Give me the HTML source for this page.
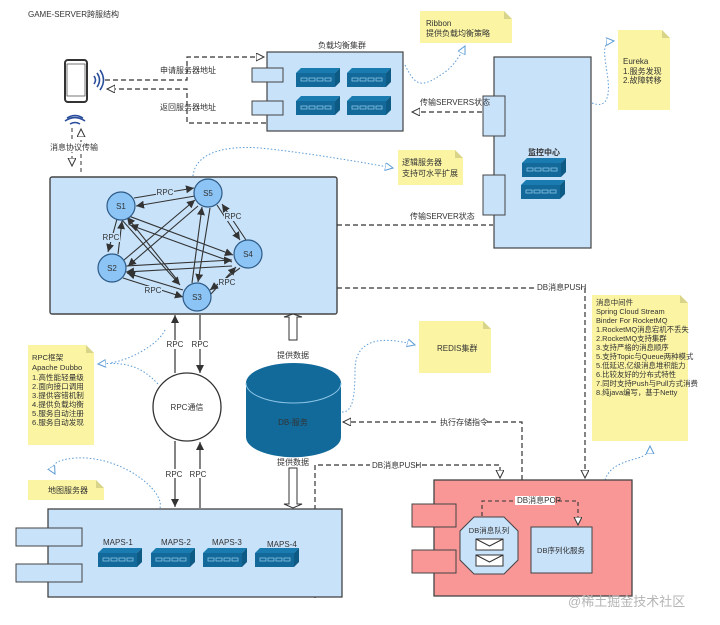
<!DOCTYPE html>
<html><head><meta charset="utf-8"><style>
html,body{margin:0;padding:0;background:#fff}
svg{display:block}
text{font-family:"Liberation Sans","Noto Sans CJK SC",sans-serif;fill:#333}
</style></head><body>
<svg width="720" height="625" viewBox="0 0 720 625" xmlns="http://www.w3.org/2000/svg">
<defs>
<marker id="oa" markerWidth="10" markerHeight="10" refX="8" refY="4" orient="auto" markerUnits="userSpaceOnUse"><path d="M0,0 L8,4 L0,8 Z" fill="#fff" stroke="#333" stroke-width="1"/></marker>
<marker id="ba" markerWidth="10" markerHeight="10" refX="8" refY="4" orient="auto" markerUnits="userSpaceOnUse"><path d="M0,0 L8,4 L0,8 Z" fill="#333"/></marker>
<marker id="bl" markerWidth="10" markerHeight="10" refX="8" refY="4" orient="auto" markerUnits="userSpaceOnUse"><path d="M0,0 L8,4 L0,8 Z" fill="#fff" stroke="#5b9bd5" stroke-width="1"/></marker>
<g id="srv"><path d="M0,5 L5,0 L44,0 L39,5 Z" fill="#1a7bb0"/><path d="M39,5 L44,0 L44,14 L39,19 Z" fill="#0d5a85"/><rect x="0" y="5" width="39" height="14" fill="#136a9a"/><g fill="none" stroke="#8cc4e6" stroke-width="0.8"><rect x="5" y="10" width="6" height="3"/><rect x="13" y="10" width="6" height="3"/><rect x="21" y="10" width="6" height="3"/><rect x="29" y="10" width="6" height="3"/></g></g>
</defs>
<text x="28" y="17" font-size="8">GAME-SERVER跨服结构</text>

<!-- phone -->
<rect x="65" y="60" width="22" height="42" rx="3" fill="#fff" stroke="#333" stroke-width="2"/>
<rect x="67" y="64" width="18" height="32" fill="#fff" stroke="#555" stroke-width="0.8"/>
<g fill="none" stroke="#2a4d9b" stroke-width="1.6"><path d="M94,76 q3,4 0,8"/><path d="M97,73 q5,7 0,14"/><path d="M100,70 q7,10 0,20"/>
<path d="M67,118 q8,-5 16,0"/><path d="M65,121 q10,-7 20,0"/><path d="M70,124 q5,-3 10,0"/></g>
<path d="M72,128 V166" stroke="#333" stroke-dasharray="4,3" fill="none" marker-end="url(#oa)"/>
<path d="M81,172 V129" stroke="#333" stroke-dasharray="4,3" fill="none" marker-end="url(#oa)"/>
<rect x="50" y="142" width="46" height="10" fill="#fff"/>
<text x="50" y="150" font-size="8">消息协议传输</text>

<!-- phone to LB -->
<path d="M105,80 H187 V57 H264" stroke="#333" stroke-width="1.2" stroke-dasharray="5,3" fill="none" marker-end="url(#oa)"/>
<path d="M266,123 H187 V89 H107" stroke="#333" stroke-width="1.2" stroke-dasharray="5,3" fill="none" marker-end="url(#oa)"/>
<text x="160" y="73" font-size="8">申请服务器地址</text>
<text x="160" y="110" font-size="8">返回服务器地址</text>

<!-- LB cluster -->
<text x="318" y="48" font-size="8">负载均衡集群</text>
<rect x="267" y="52" width="136" height="79" fill="#c8e2fa" stroke="#444" stroke-width="1.2"/>
<rect x="252" y="68" width="31" height="14" fill="#c8e2fa" stroke="#444"/>
<rect x="252" y="101" width="31" height="14" fill="#c8e2fa" stroke="#444"/>
<use href="#srv" x="296" y="68"/><use href="#srv" x="347" y="68"/>
<use href="#srv" x="296" y="96"/><use href="#srv" x="347" y="96"/>

<!-- Ribbon note -->
<path d="M420,11 H504 L512,19 V43 H420 Z" fill="#fbf5a3"/><path d="M504,11 L512,19 H504 Z" fill="#d8d48a"/>
<text x="426" y="26" font-size="8">Ribbon</text><text x="426" y="36" font-size="8">提供负载均衡策略</text>
<path d="M405,65 C415,85 420,90 445,72 C455,65 462,52 465,46" stroke="#5b9bd5" stroke-dasharray="1.5,2" fill="none" marker-end="url(#bl)"/>

<!-- monitoring -->
<rect x="494" y="57" width="97" height="191" fill="#c8e2fa" stroke="#444" stroke-width="1.2"/>
<rect x="483" y="96" width="22" height="40" fill="#c8e2fa" stroke="#444"/>
<rect x="483" y="175" width="22" height="40" fill="#c8e2fa" stroke="#444"/>
<text x="528" y="155" font-size="8" font-weight="bold">监控中心</text>
<use href="#srv" x="522" y="158"/><use href="#srv" x="521" y="180"/>
<path d="M482,112 H412" stroke="#333" stroke-width="1.2" stroke-dasharray="5,3" fill="none" marker-end="url(#oa)"/>
<text x="420" y="105" font-size="8">传输SERVERS状态</text>

<!-- Eureka note -->
<path d="M618,30 H662 L670,38 V110 H618 Z" fill="#fbf5a3"/><path d="M662,30 L670,38 H662 Z" fill="#d8d48a"/>
<text x="623" y="64" font-size="8">Eureka</text><text x="623" y="74" font-size="8">1.服务发现</text><text x="623" y="83" font-size="8">2.故障转移</text>
<path d="M592,103 C605,108 610,100 608,80 C605,55 600,42 614,41" stroke="#5b9bd5" stroke-dasharray="1.5,2" fill="none" marker-end="url(#bl)"/>

<!-- logic note -->
<path d="M398,150 H455 L463,158 V185 H398 Z" fill="#fbf5a3"/><path d="M455,150 L463,158 H455 Z" fill="#d8d48a"/>
<text x="402" y="165" font-size="8">逻辑服务器</text><text x="402" y="176" font-size="8">支持可水平扩展</text>
<path d="M193,176 C195,155 220,145 260,148 C300,152 350,160 393,168" stroke="#5b9bd5" stroke-dasharray="1.5,2" fill="none" marker-end="url(#bl)"/>

<!-- main box -->
<rect x="50" y="177" width="287" height="137" rx="2" fill="#c8e2fa" stroke="#444" stroke-width="1.4"/>
<g stroke="#333" stroke-width="1.1" fill="none" marker-end="url(#ba)">
<path d="M134,198 L194,188"/><path d="M195,196 L136,206"/>
<path d="M117,219 L108,252"/><path d="M118,254 L122,221"/>
<path d="M122,220 L180,285"/><path d="M178,281 L127,217"/>
<path d="M126,215 L233,255"/><path d="M232,262 L130,225"/>
<path d="M124,260 L195,200"/><path d="M198,206 L128,266"/>
<path d="M126,266 L232,260"/><path d="M232,266 L126,272"/>
<path d="M123,278 L183,297"/><path d="M183,290 L127,273"/>
<path d="M210,208 L198,282"/><path d="M192,283 L202,207"/>
<path d="M217,205 L240,240"/><path d="M246,240 L222,204"/>
<path d="M210,295 L236,267"/><path d="M240,268 L210,290"/>
</g>
<g font-size="8" text-anchor="middle">
<rect x="156" y="188" width="18" height="9" fill="#c8e2fa"/><text x="165" y="195">RPC</text>
<rect x="102" y="233" width="18" height="9" fill="#c8e2fa"/><text x="111" y="240">RPC</text>
<rect x="224" y="212" width="18" height="9" fill="#c8e2fa"/><text x="233" y="219">RPC</text>
<rect x="144" y="286" width="18" height="9" fill="#c8e2fa"/><text x="153" y="293">RPC</text>
<rect x="218" y="278" width="18" height="9" fill="#c8e2fa"/><text x="227" y="285">RPC</text>
</g>
<g fill="#8cc4f5" stroke="#2d5a86" stroke-width="1.2">
<circle cx="121" cy="206" r="14"/><circle cx="208" cy="193" r="14"/><circle cx="248" cy="254" r="14"/><circle cx="112" cy="268" r="14"/><circle cx="197" cy="297" r="14"/>
</g>
<g font-size="8" text-anchor="middle" fill="#2d4a66"><text x="121" y="209">S1</text><text x="208" y="196">S5</text><text x="248" y="257">S4</text><text x="112" y="271">S2</text><text x="197" y="300">S3</text></g>

<path d="M337,225 H493" stroke="#333" stroke-width="1.2" stroke-dasharray="5,3" fill="none"/>
<text x="410" y="219" font-size="8">传输SERVER状态</text>

<!-- DB push line -->
<path d="M337,288 H585 V478" stroke="#333" stroke-width="1.2" stroke-dasharray="5,3" fill="none" marker-end="url(#oa)"/>
<rect x="535" y="283" width="46" height="9" fill="#fff"/><text x="537" y="290" font-size="8">DB消息PUSH</text>

<!-- message note -->
<path d="M592,295 H680 L688,303 V441 H592 Z" fill="#fbf5a3"/><path d="M680,295 L688,303 H680 Z" fill="#d8d48a"/>
<g font-size="7.4"><text x="596" y="305">消息中间件</text><text x="596" y="314">Spring Cloud Stream</text><text x="596" y="323">Binder For RocketMQ</text><text x="596" y="332">1.RocketMQ消息宕机不丢失</text><text x="596" y="341">2.RocketMQ支持集群</text><text x="596" y="350">3.支持严格的消息顺序</text><text x="596" y="359">5.支持Topic与Queue两种模式</text><text x="596" y="368">5.低延迟,亿级消息堆积能力</text><text x="596" y="377">6.比较友好的分布式特性</text><text x="596" y="386">7.同时支持Push与Pull方式消费</text><text x="596" y="395">8.纯java编写，基于Netty</text></g>
<path d="M605,480 C610,465 625,462 638,458 C645,456 650,452 650,446" stroke="#5b9bd5" stroke-dasharray="1.5,2" fill="none" marker-end="url(#bl)"/>

<!-- RPC circle -->
<g stroke="#333" stroke-width="1.2" fill="none">
<path d="M175,373 V315" marker-end="url(#ba)"/><path d="M200,315 V373" marker-end="url(#ba)"/>
<path d="M200,508 V442" marker-end="url(#ba)"/><path d="M175,441 V507" marker-end="url(#ba)"/>
</g>
<circle cx="187" cy="407" r="34" fill="#fff" stroke="#333" stroke-width="1.3"/>
<text x="187" y="410" font-size="8" text-anchor="middle">RPC通信</text>
<g font-size="8" text-anchor="middle"><rect x="166" y="340" width="18" height="9" fill="#fff"/><text x="175" y="347">RPC</text><rect x="191" y="340" width="18" height="9" fill="#fff"/><text x="200" y="347">RPC</text>
<rect x="165" y="469" width="18" height="9" fill="#fff"/><text x="174" y="477">RPC</text><rect x="189" y="469" width="18" height="9" fill="#fff"/><text x="198" y="477">RPC</text></g>

<!-- RPC note -->
<path d="M28,345 H86 L94,353 V445 H28 Z" fill="#fbf5a3"/><path d="M86,345 L94,353 H86 Z" fill="#d8d48a"/>
<g font-size="7.6"><text x="32" y="360">RPC框架</text><text x="32" y="370">Apache Dubbo</text><text x="32" y="380">1.高性能轻量级</text><text x="32" y="389">2.面向接口调用</text><text x="32" y="398">3.提供容错机制</text><text x="32" y="407">4.提供负载均衡</text><text x="32" y="416">5.服务自动注册</text><text x="32" y="425">6.服务自动发现</text></g>
<path d="M158,384 C140,365 125,362 98,364" stroke="#5b9bd5" stroke-dasharray="1.5,2" fill="none" marker-end="url(#bl)"/>
<path d="M165,330 C158,345 130,360 110,363" stroke="#5b9bd5" stroke-dasharray="1.5,2" fill="none"/>

<!-- map note -->
<path d="M28,480 H96 L104,488 V500 H28 Z" fill="#fbf5a3"/><path d="M96,480 L104,488 H96 Z" fill="#d8d48a"/>
<text x="48" y="493" font-size="8">地图服务器</text>
<path d="M160,508 C165,490 120,455 75,458 C55,460 50,465 55,474" stroke="#5b9bd5" stroke-dasharray="1.5,2" fill="none" marker-end="url(#bl)"/>

<!-- DB cylinder -->
<path d="M246,383 V437 A47,20 0 0 0 341,437 V383" fill="#116a9a"/>
<ellipse cx="293.5" cy="383" rx="47.5" ry="20" fill="#116a9a"/>
<path d="M246,383 A47.5,20 0 0 0 341,383" stroke="#8cc4e6" fill="none"/>
<text x="293" y="425" font-size="8" text-anchor="middle" fill="#0a3a55">DB-服务</text>
<path d="M289,340 V317 H284 L293,314 L302,317 H297 V340 Z" fill="#fff" stroke="#333"/>
<path d="M289,468 V504 H284 L293,508 L302,504 H297 V468 Z" fill="#fff" stroke="#333"/>
<text x="293" y="358" font-size="8" text-anchor="middle">提供数据</text>
<text x="293" y="465" font-size="8" text-anchor="middle">提供数据</text>
<path d="M342,412 C352,412 355,400 355,370 C355,340 380,335 415,345" stroke="#5b9bd5" stroke-dasharray="1.5,2" fill="none" marker-end="url(#bl)"/>

<!-- REDIS note -->
<path d="M419,321 H483 L491,329 V373 H419 Z" fill="#fbf5a3"/><path d="M483,321 L491,329 H483 Z" fill="#d8d48a"/>
<text x="437" y="351" font-size="8">REDIS集群</text>

<path d="M522,480 V422 H343" stroke="#333" stroke-width="1.2" stroke-dasharray="5,3" fill="none" marker-end="url(#oa)"/>
<rect x="438" y="417" width="46" height="9" fill="#fff"/><text x="440" y="425" font-size="8">执行存储指令</text>
<path d="M315,598 V465 H500 V478" stroke="#333" stroke-width="1.2" stroke-dasharray="5,3" fill="none" marker-end="url(#oa)"/>
<rect x="370" y="460" width="46" height="9" fill="#fff"/><text x="372" y="468" font-size="8">DB消息PUSH</text>

<!-- maps box -->
<rect x="48" y="509" width="294" height="88" fill="#c8e2fa" stroke="#444" stroke-width="1.3"/>
<rect x="16" y="528" width="66" height="18" fill="#c8e2fa" stroke="#444"/>
<rect x="16" y="564" width="66" height="18" fill="#c8e2fa" stroke="#444"/>
<use href="#srv" x="98" y="548"/>
<use href="#srv" x="151" y="548"/><use href="#srv" x="203" y="548"/><use href="#srv" x="255" y="548"/>
<g font-size="8" fill="#1a3b5a"><text x="103" y="545">MAPS-1</text><text x="161" y="545">MAPS-2</text><text x="212" y="545">MAPS-3</text><text x="267" y="547">MAPS-4</text></g>

<!-- red box -->
<rect x="434" y="480" width="198" height="116" fill="#f99797" stroke="#444" stroke-width="1.3"/>
<rect x="412" y="504" width="44" height="23" fill="#f99797" stroke="#444"/>
<rect x="412" y="550" width="44" height="23" fill="#f99797" stroke="#444"/>
<path d="M482,516 V501 H578 V525" stroke="#333" stroke-width="1.1" stroke-dasharray="4,3" fill="none" marker-end="url(#oa)"/>
<rect x="515" y="496" width="40" height="9" fill="#fff"/><text x="517" y="503" font-size="8">DB消息POP</text>
<path d="M474,517 H504 L518,531 V560 L504,574 H474 L460,560 V531 Z" fill="#c8e2fa" stroke="#444"/>
<text x="489" y="533" font-size="7.5" text-anchor="middle">DB消息队列</text>
<rect x="476" y="539" width="27" height="11" fill="#fff" stroke="#333"/><path d="M476,539 L489.5,546 L503,539" fill="none" stroke="#333"/>
<rect x="476" y="555" width="27" height="11" fill="#fff" stroke="#333"/><path d="M476,555 L489.5,562 L503,555" fill="none" stroke="#333"/>
<rect x="531" y="527" width="61" height="46" fill="#c8e2fa" stroke="#444"/>
<text x="561" y="553" font-size="7.5" text-anchor="middle">DB序列化服务</text>

<text x="568" y="606" font-size="13" style="fill:#b5b5b5">@稀土掘金技术社区</text>
</svg>
</body></html>
